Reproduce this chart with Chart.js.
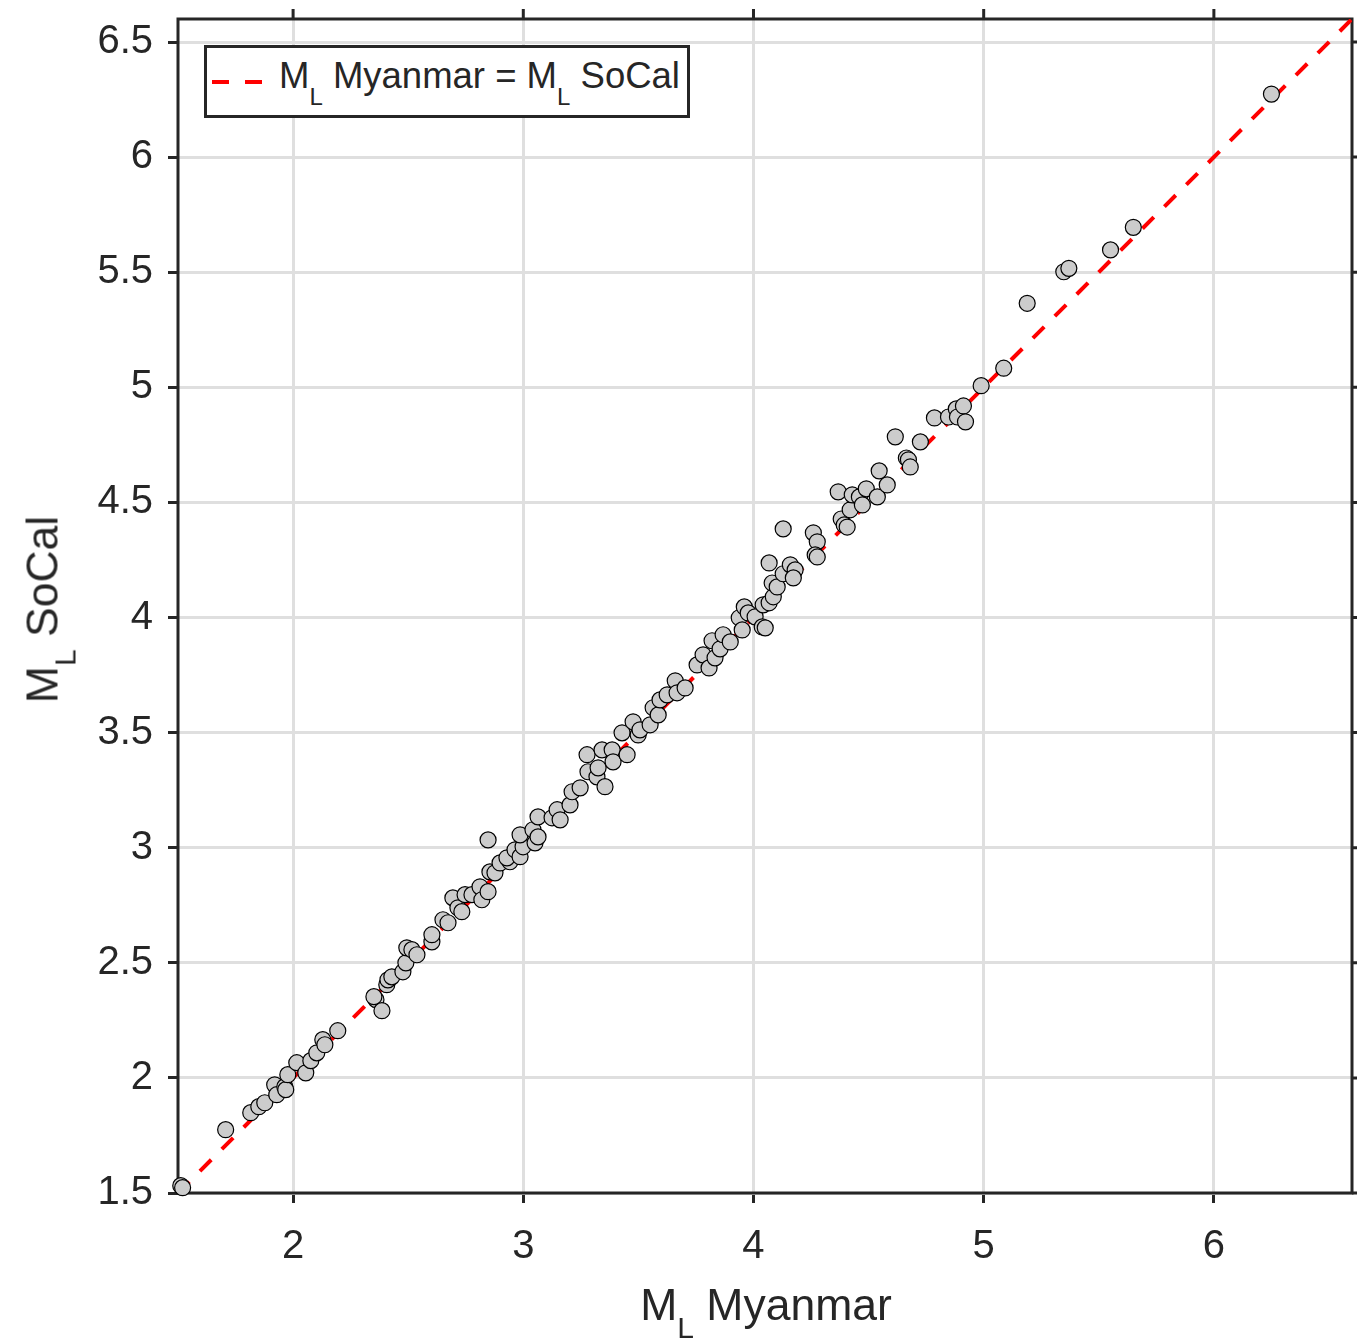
<!DOCTYPE html>
<html lang="en">
<head>
    <meta charset="UTF-8">
    <title>M_L Myanmar vs M_L SoCal</title>
    <script src="https://cdn.jsdelivr.net/npm/chart.js"></script>
    <style>
        body {
            margin: 0;
            padding: 0;
            background-color: #ffffff;
            color: #262626;
            font-family: 'Liberation Sans', Arial, Helvetica, sans-serif;
        }
        .wrap {
            position: relative;
            width: 1357px;
            height: 1339px;
            overflow: hidden;
        }
        canvas { display: block; }
        .axis-title {
            position: absolute;
            width: 500px;
            font-size: 44.5px;
            line-height: 44px;
            text-align: center;
            white-space: nowrap;
        }
        .axis-title sub {
            font-size: 30px;
            vertical-align: baseline;
            position: relative;
            top: 18px;
        }
        #xTitle { left: 516px; top: 1283px; }
        #yTitle { left: -205px; top: 585px; transform: rotate(-90deg); }
        .legend {
            position: absolute;
            left: 204px;
            top: 45px;
            width: 486px;
            height: 73px;
            box-sizing: border-box;
            border: 3px solid #262626;
            background: #ffffff;
        }
        .legend svg { position: absolute; left: 5px; top: 31px; }
        .legend .label {
            position: absolute;
            left: 72px;
            top: 10px;
            font-size: 36.5px;
            line-height: 36px;
            white-space: nowrap;
        }
        .legend sub {
            font-size: 24px;
            vertical-align: baseline;
            position: relative;
            top: 17px;
        }
    </style>
</head>
<body>
    <div class="wrap">
        <canvas id="myChart" width="1357" height="1339"></canvas>
        <div class="axis-title" id="xTitle">M<sub>L</sub> Myanmar</div>
        <div class="axis-title" id="yTitle">M<sub>L</sub> SoCal</div>
        <div class="legend">
            <svg width="52" height="6"><line x1="0" y1="3" x2="50" y2="3" stroke="#ff0000" stroke-width="4" stroke-dasharray="17 16"/></svg>
            <div class="label">M<sub>L</sub> Myanmar = M<sub>L</sub> SoCal</div>
        </div>
    </div>

    <script>
        // magnitudes
        const mlMyanmar = [
            1.512, 1.520, 1.707, 1.816, 1.851, 1.877, 1.920, 1.929, 1.964, 1.968,
            1.977, 2.016, 2.055, 2.077, 2.103, 2.129, 2.138, 2.194, 2.360, 2.351,
            2.386, 2.407, 2.412, 2.429, 2.477, 2.490, 2.494, 2.516, 2.538, 2.603,
            2.603, 2.651, 2.673, 2.694, 2.716, 2.733, 2.747, 2.777, 2.812, 2.820,
            2.847, 2.855, 2.877, 2.899, 2.942, 2.847, 2.929, 2.964, 2.986, 2.999,
            2.986, 3.042, 3.051, 3.064, 3.064, 3.125, 3.147, 3.160, 3.203, 3.212,
            3.247, 3.277, 3.281, 3.320, 3.325, 3.342, 3.355, 3.386, 3.390, 3.429,
            3.451, 3.477, 3.499, 3.507, 3.551, 3.564, 3.586, 3.594, 3.625, 3.660,
            3.668, 3.703, 3.755, 3.781, 3.807, 3.820, 3.833, 3.855, 3.868, 3.899,
            3.938, 3.951, 3.960, 3.977, 4.007, 4.038, 4.051, 4.042, 4.068, 4.086,
            4.081, 4.103, 4.068, 4.129, 4.160, 4.181, 4.173, 4.129, 4.260, 4.277,
            4.268, 4.277, 4.368, 4.381, 4.394, 4.407, 4.420, 4.429, 4.460, 4.473,
            4.490, 4.538, 4.546, 4.581, 4.616, 4.664, 4.673, 4.681, 4.725, 4.786,
            4.847, 4.881, 4.886, 4.912, 4.921, 4.989, 5.087, 5.189, 5.348, 5.370,
            5.551, 5.650, 6.250
        ];
        const mlSoCal = [
            1.532, 1.523, 1.775, 1.849, 1.875, 1.892, 1.970, 1.927, 1.962, 1.949,
            2.014, 2.066, 2.022, 2.075, 2.109, 2.166, 2.144, 2.205, 2.340, 2.353,
            2.292, 2.405, 2.426, 2.439, 2.461, 2.500, 2.565, 2.557, 2.535, 2.591,
            2.622, 2.687, 2.674, 2.782, 2.739, 2.722, 2.796, 2.796, 2.830, 2.774,
            2.809, 2.895, 2.891, 2.934, 2.939, 3.034, 2.956, 2.991, 2.961, 3.004,
            3.056, 3.078, 3.021, 3.047, 3.134, 3.130, 3.165, 3.121, 3.186, 3.243,
            3.260, 3.404, 3.330, 3.308, 3.347, 3.425, 3.265, 3.425, 3.373, 3.499,
            3.404, 3.547, 3.490, 3.512, 3.534, 3.608, 3.577, 3.642, 3.664, 3.725,
            3.673, 3.694, 3.794, 3.838, 3.781, 3.899, 3.825, 3.864, 3.925, 3.894,
            3.999, 3.946, 4.046, 4.020, 4.003, 3.959, 3.955, 4.055, 4.064, 4.090,
            4.150, 4.133, 4.237, 4.190, 4.229, 4.207, 4.172, 4.385, 4.368, 4.329,
            4.272, 4.263, 4.546, 4.428, 4.402, 4.393, 4.468, 4.533, 4.524, 4.489,
            4.559, 4.524, 4.637, 4.576, 4.785, 4.693, 4.685, 4.654, 4.763, 4.867,
            4.871, 4.906, 4.871, 4.919, 4.850, 5.007, 5.083, 5.365, 5.502, 5.517,
            5.597, 5.695, 6.274
        ];
        // 1:1 reference line ends
        const oneToOne = [1.5, 6.6];

        const xTickValues = [2, 3, 4, 5, 6];
        const xTickLabels = ['2', '3', '4', '5', '6'];
        const yTickValues = [1.5, 2, 2.5, 3, 3.5, 4, 4.5, 5, 5.5, 6, 6.5];
        const yTickLabels = ['1.5', '2', '2.5', '3', '3.5', '4', '4.5', '5', '5.5', '6', '6.5'];

        const axisColor = '#262626';
        const gridColor = '#dfdfdf';
        Chart.defaults.font.family = "'Liberation Sans', Arial, Helvetica, sans-serif";

        // box around the axes, with ticks on top and right like matlab
        const framePlugin = {
            id: 'frame',
            beforeDatasetsDraw(chart) {
                const { ctx, chartArea: a, scales } = chart;
                ctx.save();
                ctx.strokeStyle = axisColor;
                ctx.lineWidth = 3;
                ctx.strokeRect(a.left, a.top, a.right - a.left, a.bottom - a.top);
                ctx.beginPath();
                xTickValues.forEach(v => {
                    const px = scales.x.getPixelForValue(v);
                    ctx.moveTo(px, a.top);
                    ctx.lineTo(px, a.top - 10);
                });
                yTickValues.forEach(v => {
                    const py = scales.y.getPixelForValue(v);
                    ctx.moveTo(a.right, py);
                    ctx.lineTo(a.right + 10, py);
                });
                ctx.stroke();
                ctx.restore();
            }
        };

        const ctx = document.getElementById('myChart').getContext('2d');
        const myChart = new Chart(ctx, {
            type: 'scatter',
            data: {
                datasets: [{
                    label: 'events',
                    data: mlMyanmar.map((x, i) => ({ x: x, y: mlSoCal[i] })),
                    backgroundColor: '#cccccc',
                    borderColor: '#000000',
                    borderWidth: 1.2,
                    pointRadius: 8,
                    clip: false
                }, {
                    label: 'M_L Myanmar = M_L SoCal',
                    data: oneToOne.map(v => ({ x: v, y: v })),
                    showLine: true,
                    borderColor: '#ff0000',
                    borderWidth: 4,
                    borderDash: [16, 15],
                    pointRadius: 0,
                    fill: false
                }]
            },
            options: {
                responsive: false,
                animation: false,
                layout: {
                    autoPadding: false,
                    padding: { top: 19, right: 5, left: 0, bottom: 0 }
                },
                scales: {
                    x: {
                        type: 'linear',
                        min: 1.5,
                        max: 6.6,
                        afterBuildTicks: s => { s.ticks = xTickValues.map(v => ({ value: v })); },
                        afterFit: s => { s.height = 146; s.paddingLeft = 0; s.paddingRight = 0; },
                        ticks: {
                            callback: (v, i) => xTickLabels[i],
                            color: axisColor,
                            font: { size: 40 },
                            padding: 20,
                            maxRotation: 0,
                            autoSkip: false
                        },
                        grid: {
                            color: gridColor,
                            lineWidth: 3,
                            tickLength: 10,
                            tickColor: axisColor,
                            tickWidth: 3
                        },
                        border: { display: false }
                    },
                    y: {
                        type: 'linear',
                        min: 1.5,
                        max: 6.6,
                        afterBuildTicks: s => { s.ticks = yTickValues.map(v => ({ value: v })); },
                        afterFit: s => { s.width = 178; s.paddingTop = 0; s.paddingBottom = 0; },
                        ticks: {
                            callback: (v, i) => yTickLabels[i],
                            color: axisColor,
                            font: { size: 40 },
                            padding: 15,
                            autoSkip: false
                        },
                        grid: {
                            color: gridColor,
                            lineWidth: 3,
                            tickLength: 10,
                            tickColor: axisColor,
                            tickWidth: 3
                        },
                        border: { display: false }
                    }
                },
                plugins: {
                    legend: { display: false },
                    tooltip: { enabled: false }
                }
            },
            plugins: [framePlugin]
        });
    </script>
</body>
</html>
